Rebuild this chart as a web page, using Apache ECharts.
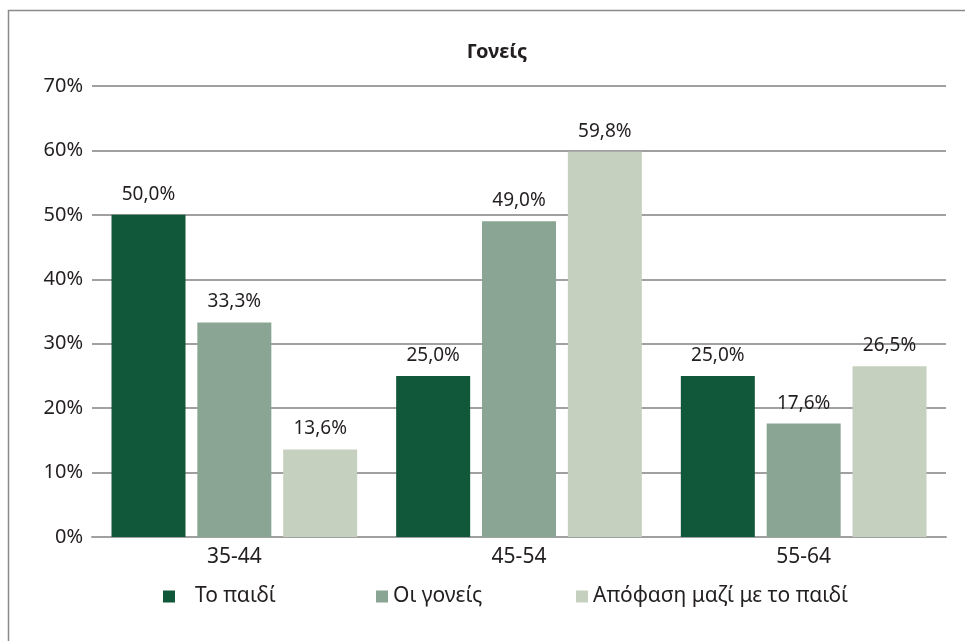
<!DOCTYPE html>
<html>
<head>
<meta charset="utf-8">
<script src="https://cdn.jsdelivr.net/npm/echarts@6/dist/echarts.min.js"></script>
<style>
  html, body { margin: 0; padding: 0; background: #fff; }
  #main { width: 965px; height: 641px; }
</style>
</head>
<body>
<div id="main"></div>
<script>
const categories = ['35-44', '45-54', '55-64'];
const seriesNames = ['Το παιδί', 'Οι γονείς', 'Απόφαση μαζί με το παιδί'];
const child = [50.0, 25.0, 25.0];
const parents = [33.3, 49.0, 17.6];
const together = [13.6, 59.8, 26.5];
const colors = ['#11573A', '#8BA594', '#C5D0BE'];

const font = '"Noto Sans", sans-serif';
const myChart = echarts.init(document.getElementById('main'));

const mkSeries = (name, data, color) => ({
  name: name,
  type: 'bar',
  data: data,
  barWidth: 74,
  barGap: '16%',
  itemStyle: { color: color },
  label: {
    show: true,
    position: 'top',
    distance: 11,
    fontFamily: font,
    fontSize: 19,
    color: '#231f20',
    formatter: p => p.value.toFixed(1).replace('.', ',') + '%'
  }
});

const legendBase = {
  top: 586,
  padding: 0,
  itemWidth: 12,
  itemHeight: 12,
  icon: 'rect',
  textStyle: { fontFamily: font, fontSize: 21, color: '#231f20' }
};

let option = {
  animation: false,
  title: {
    text: 'Γονείς',
    left: 497,
    textAlign: 'center',
    top: 42,
    padding: 0,
    textStyle: { fontFamily: font, fontSize: 20, fontWeight: 'bold', color: '#231f20' }
  },
  graphic: [{
    type: 'rect',
    shape: { x: 8.5, y: 10.5, width: 980, height: 660 },
    style: { fill: 'none', stroke: '#8a8a8a', lineWidth: 1.5 },
    silent: true
  }],
  legend: [
    Object.assign({}, legendBase, { left: 163, data: [seriesNames[0]],
      textStyle: Object.assign({}, legendBase.textStyle, { padding: [0, 0, 0, 15] }) }),
    Object.assign({}, legendBase, { left: 376, data: [seriesNames[1]] }),
    Object.assign({}, legendBase, { left: 576, data: [seriesNames[2]] })
  ],
  grid: { left: 92, right: 19, top: 86, bottom: 104 },
  xAxis: {
    type: 'category',
    data: categories,
    axisTick: { show: false },
    axisLine: { lineStyle: { color: '#a0a0a0', width: 2 } },
    axisLabel: { fontFamily: font, fontSize: 21, color: '#231f20', margin: 10 }
  },
  yAxis: {
    type: 'value',
    min: 0,
    max: 70,
    interval: 10,
    axisLine: { show: false },
    axisTick: { show: false },
    splitLine: { lineStyle: { color: '#a0a0a0', width: 2 } },
    axisLabel: { fontFamily: font, fontSize: 20, color: '#231f20', margin: 9, formatter: '{value}%' }
  },
  series: [
    mkSeries(seriesNames[0], child, colors[0]),
    mkSeries(seriesNames[1], parents, colors[1]),
    mkSeries(seriesNames[2], together, colors[2])
  ]
};

myChart.setOption(option);
</script>
</body>
</html>
